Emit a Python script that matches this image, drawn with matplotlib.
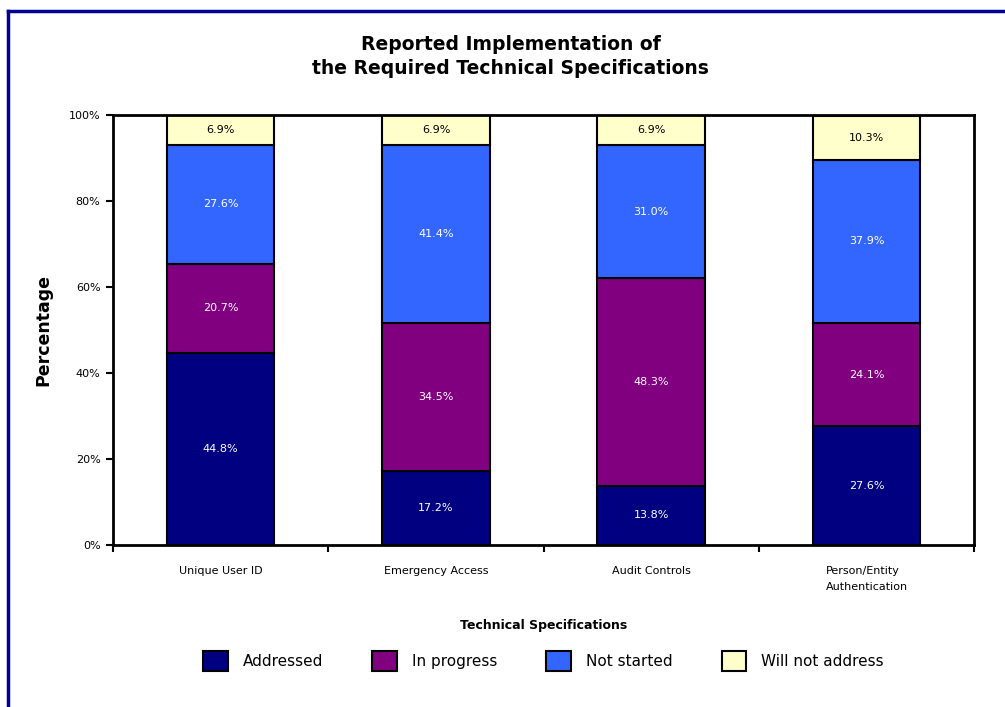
import matplotlib.pyplot as plt
import matplotlib.lines as mlines
import numpy as np

categories = ['Unique User ID', 'Emergency Access', 'Audit Controls',
              'Person/Entity\nAuthentication']
series_names = ['Addressed', 'In progress', 'Not started', 'Will not address']
addressed = [44.8, 17.2, 13.8, 27.6]
in_progress = [20.7, 34.5, 48.3, 24.1]
not_started = [27.6, 41.4, 31.0, 37.9]
will_not = [6.9, 6.9, 6.9, 10.3]
colors = ['#000080', '#800080', '#3366FF', '#FFFFCC']
text_colors = ['white', 'white', 'white', 'black']

plt.rcParams['font.family'] = 'DejaVu Sans'

fig = plt.figure(figsize=(10.05, 7.07), dpi=100)
ax = fig.add_axes([0.1124, 0.229, 0.857, 0.608])

x = np.arange(len(categories))
bottom = np.zeros(len(categories))
handles = []
for vals, name, col, tcol in zip([addressed, in_progress, not_started, will_not],
                                 series_names, colors, text_colors):
    vals = np.array(vals)
    bars = ax.bar(x, vals, width=0.5, bottom=bottom, color=col,
                  edgecolor='black', linewidth=1.5, label=name)
    handles.append(bars)
    for xi, b, v in zip(x, bottom, vals):
        ax.text(xi, b + v / 2, f'{v:.1f}%', ha='center', va='center',
                fontsize=8, color=tcol)
    bottom += vals

ax.set_xlim(-0.5, len(categories) - 0.5)
ax.set_ylim(0, 100)
ax.set_yticks(np.arange(0, 101, 20))
ax.set_yticklabels([f'{v}%' for v in range(0, 101, 20)], fontsize=8)
ax.tick_params(axis='y', direction='out', length=5, width=1.5, pad=4)

# category labels at centres, tick marks at the boundaries
ax.set_xticks(x)
ax.set_xticklabels(categories, fontsize=8, multialignment='left',
                   linespacing=1.7)
ax.tick_params(axis='x', which='major', length=0, pad=15)
ax.set_xticks(np.arange(-0.5, len(categories)), minor=True)
ax.tick_params(axis='x', which='minor', direction='out', length=5, width=1.5)

for sp in ax.spines.values():
    sp.set_linewidth(2)

ax.set_ylabel('Percentage', fontsize=12.5, fontweight='bold', labelpad=12)
ax.set_xlabel('Technical Specifications', fontsize=9, fontweight='bold',
              labelpad=20)

fig.text(0.508, 0.92, 'Reported Implementation of\nthe Required Technical Specifications',
         ha='center', va='center', fontsize=13.5, fontweight='bold',
         linespacing=1.35)

ax.legend(handles=handles, loc='center', bbox_to_anchor=(0.5, -0.27),
          ncol=4, frameon=False, fontsize=11, handlelength=1.6,
          handleheight=1.6, handletextpad=1.0, columnspacing=3.2)

# dark blue frame round the figure
fig.add_artist(mlines.Line2D([0.008, 0.008], [0, 0.985], color='#000099',
                             linewidth=2.5, transform=fig.transFigure))
fig.add_artist(mlines.Line2D([0.008, 1.0], [0.985, 0.985], color='#000099',
                             linewidth=2.5, transform=fig.transFigure))

fig.savefig('out.png', dpi=100)
